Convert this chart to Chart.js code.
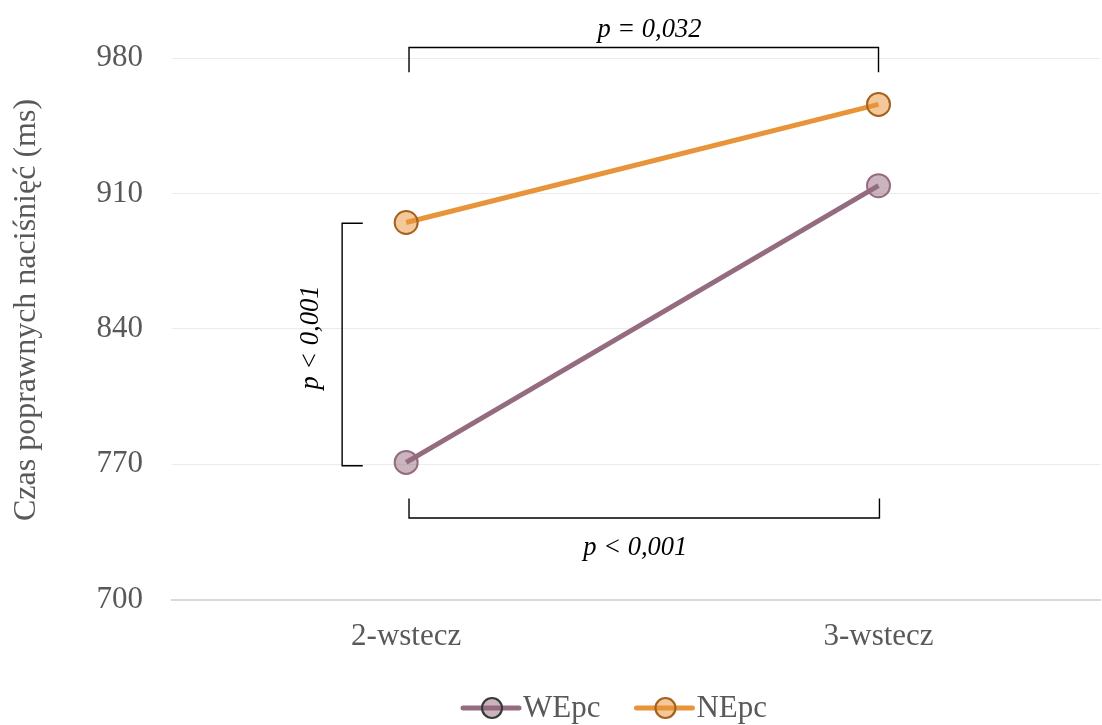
<!DOCTYPE html>
<html><head><meta charset="utf-8">
<script src="https://cdn.jsdelivr.net/npm/chart.js@4"></script>
<style>html,body{margin:0;padding:0;background:#fff;overflow:hidden;width:1102px;height:725px}#wrap{width:1114px;height:725px;position:relative}</style>
</head><body><div id="wrap"><canvas id="c"></canvas></div>
<script>
const categories = ['2-wstecz', '3-wstecz'];
const seriesNames = ['WEpc', 'NEpc'];
const wepcValues = [771, 914];
const nepcValues = [895, 956];
const yTicks = [700, 770, 840, 910, 980];
const yTitle = 'Czas poprawnych naciśnięć (ms)';
const pLabels = ['p = 0,032', 'p < 0,001', 'p < 0,001'];

// annotation brackets in data coordinates (x: category index, y: ms)
const brackets = [
  {dir: 'h', x0: 0.006, x1: 1.0, y: 985.4, yEnd: 972.7, text: pLabels[0], tx: 0.515, ty: 991.0},
  {dir: 'h', x0: 0.006, x1: 1.002, y: 742.3, yEnd: 752.4, text: pLabels[1], tx: 0.485, ty: 723.3},
  {dir: 'v', x: -0.1356, xEnd: -0.0919, y0: 894.6, y1: 769.3, text: pLabels[2], tx: -0.186, ty: 835.5}
];

const SERIF = '"Liberation Serif", "Times New Roman", serif';
const GRAY = '#595959';

const bracketPlugin = {
  id: 'brackets',
  afterDatasetsDraw(chart) {
    const {ctx, scales: {x, y}} = chart;
    ctx.save();
    ctx.strokeStyle = '#000';
    ctx.lineWidth = 1.4;
    ctx.fillStyle = '#000';
    ctx.font = 'italic 26.5px ' + SERIF;
    brackets.forEach(b => {
      ctx.beginPath();
      if (b.dir === 'h') {
        const px0 = x.getPixelForValue(b.x0), px1 = x.getPixelForValue(b.x1);
        const py = y.getPixelForValue(b.y), pe = y.getPixelForValue(b.yEnd);
        ctx.moveTo(px0, pe); ctx.lineTo(px0, py); ctx.lineTo(px1, py); ctx.lineTo(px1, pe);
        ctx.stroke();
        ctx.textAlign = 'center'; ctx.textBaseline = 'alphabetic';
        ctx.fillText(b.text, x.getPixelForValue(b.tx), y.getPixelForValue(b.ty));
      } else {
        const px = x.getPixelForValue(b.x), pe = x.getPixelForValue(b.xEnd);
        const py0 = y.getPixelForValue(b.y0), py1 = y.getPixelForValue(b.y1);
        ctx.moveTo(pe, py0); ctx.lineTo(px, py0); ctx.lineTo(px, py1); ctx.lineTo(pe, py1);
        ctx.stroke();
        ctx.save();
        ctx.translate(x.getPixelForValue(b.tx), y.getPixelForValue(b.ty));
        ctx.rotate(-Math.PI / 2);
        ctx.textAlign = 'center'; ctx.textBaseline = 'alphabetic';
        ctx.fillText(b.text, 0, 0);
        ctx.restore();
      }
    });
    ctx.restore();
  }
};

const titlePlugin = {
  id: 'yTitle',
  afterDraw(chart) {
    const ctx = chart.ctx;
    ctx.save();
    ctx.font = '32px ' + SERIF;
    ctx.fillStyle = GRAY;
    ctx.translate(27, 310);
    ctx.rotate(-Math.PI / 2);
    ctx.textAlign = 'center';
    ctx.textBaseline = 'middle';
    ctx.fillText(yTitle, 0, 0);
    ctx.restore();
  }
};

const legendPlugin = {
  id: 'lineLegend',
  afterDraw(chart) {
    const ctx = chart.ctx;
    ctx.save();
    ctx.font = '31px ' + SERIF;
    const yc = 708;
    let xs = 463;
    chart.data.datasets.forEach((ds, i) => {
      const lineLen = 56;
      ctx.strokeStyle = ds.borderColor;
      ctx.lineWidth = 5;
      ctx.lineCap = 'round';
      ctx.beginPath(); ctx.moveTo(xs, yc); ctx.lineTo(xs + lineLen, yc); ctx.stroke();
      ctx.beginPath();
      ctx.arc(xs + lineLen / 2 + 1, yc, 10, 0, Math.PI * 2);
      ctx.fillStyle = ds.pointBackgroundColor;
      ctx.fill();
      ctx.lineWidth = 2.2;
      ctx.strokeStyle = ds.legendBorder;
      ctx.stroke();
      ctx.fillStyle = GRAY;
      ctx.textAlign = 'left'; ctx.textBaseline = 'middle';
      const tx = xs + lineLen + 4;
      ctx.fillText(ds.label, tx, yc + 1);
      xs = tx + ctx.measureText(ds.label).width + 36;
    });
    ctx.restore();
  }
};

new Chart(document.getElementById('c'), {
  type: 'line',
  data: {
    datasets: [
      {
        label: seriesNames[0],
        data: wepcValues.map((v, i) => ({x: i, y: v})),
        borderColor: '#956B80',
        borderWidth: 5,
        pointRadius: 11.5,
        pointHoverRadius: 11.5,
        pointBorderWidth: 2,
        pointBackgroundColor: 'rgba(149,107,128,0.5)',
        pointBorderColor: '#956B80',
        legendBorder: '#3a3a3a'
      },
      {
        label: seriesNames[1],
        data: nepcValues.map((v, i) => ({x: i, y: v})),
        borderColor: '#E8943A',
        borderWidth: 5,
        pointRadius: 11.5,
        pointHoverRadius: 11.5,
        pointBorderWidth: 2,
        pointBackgroundColor: 'rgba(232,148,58,0.5)',
        pointBorderColor: '#A6621C',
        legendBorder: '#A6621C'
      }
    ]
  },
  options: {
    responsive: true,
    maintainAspectRatio: false,
    animation: false,
    layout: {padding: {top: 58, right: 2, bottom: 52, left: 0}},
    plugins: {legend: {display: false}, tooltip: {enabled: false}},
    scales: {
      x: {
        type: 'linear',
        min: -0.4958,
        max: 1.470,
        afterBuildTicks: s => { s.ticks = categories.map((c, i) => ({value: i})); },
        afterFit: s => { s.paddingLeft = 0; s.paddingRight = 0; },
        ticks: {
          callback: v => categories[v],
          font: {family: SERIF, size: 31},
          color: GRAY,
          padding: 18,
          maxRotation: 0,
          autoSkip: false
        },
        grid: {display: false, drawTicks: false},
        border: {display: true, color: '#D9D9D9', width: 2}
      },
      y: {
        min: 700,
        max: 980,
        afterBuildTicks: s => { s.ticks = yTicks.map(v => ({value: v})); },
        afterFit: s => { s.width = 172; },
        ticks: {
          font: {family: SERIF, size: 31},
          color: GRAY,
          padding: 29
        },
        grid: {color: '#EBEBEB', lineWidth: 1, drawTicks: false},
        border: {display: false},
        title: {display: false}
      }
    }
  },
  plugins: [bracketPlugin, titlePlugin, legendPlugin]
});
</script>
</body></html>
